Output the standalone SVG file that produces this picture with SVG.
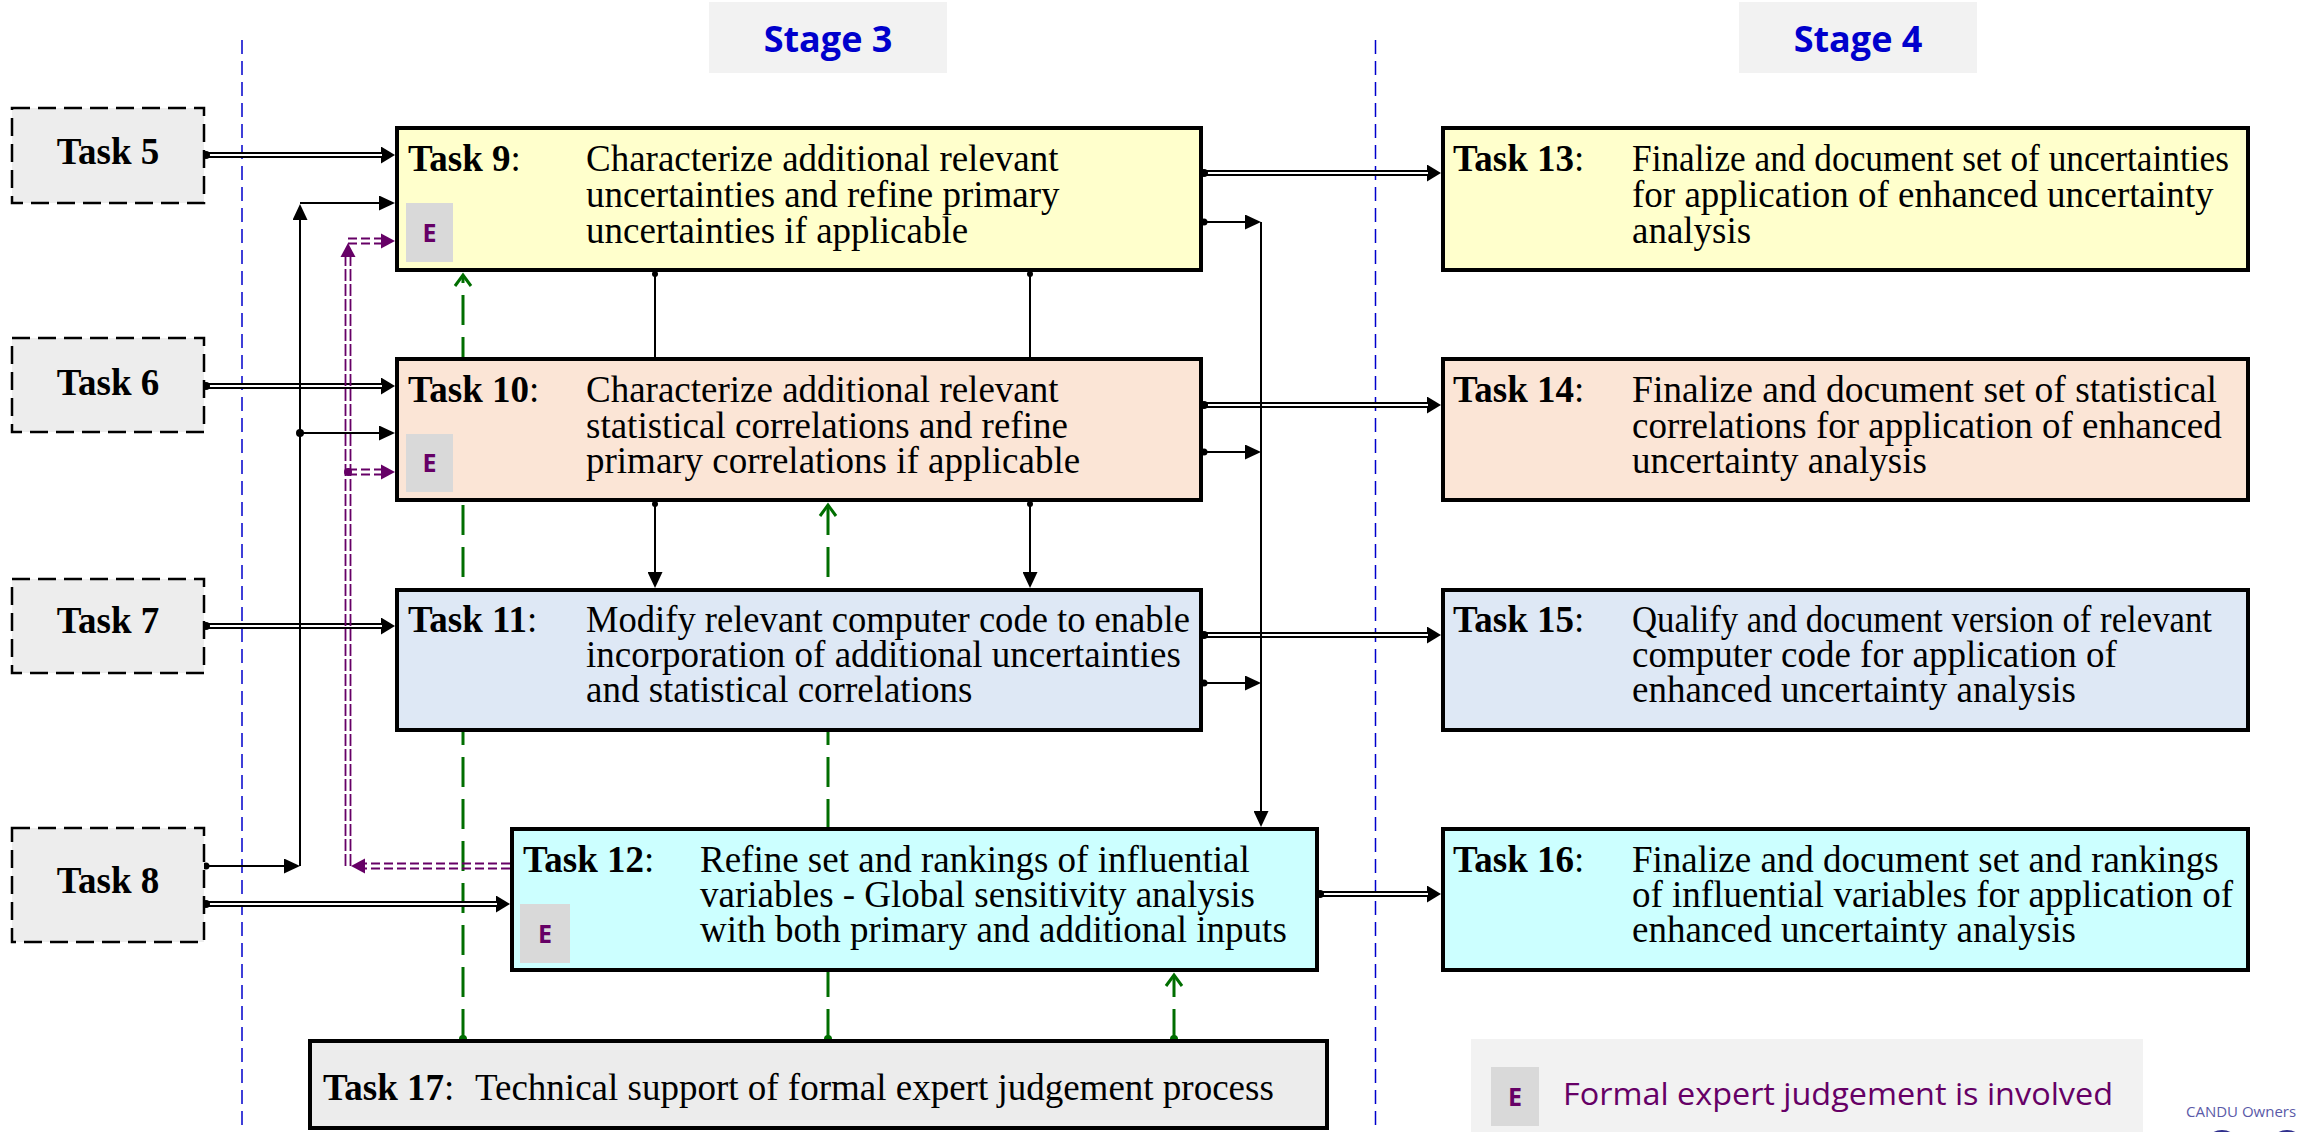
<svg xmlns="http://www.w3.org/2000/svg" width="2305" height="1132" viewBox="0 0 2305 1132">
<style>
.t{font-family:"Liberation Serif","Times New Roman",serif;font-size:37px;fill:#000}
.b{font-weight:bold}
.stage{font-family:"Open Sans","Liberation Sans",sans-serif;font-weight:bold;font-size:36px;fill:#0000cc;text-anchor:middle}
.e{font-family:"Open Sans","Liberation Sans",sans-serif;font-weight:bold;font-size:25px;fill:#660066;text-anchor:middle}
.badge{fill:#d9d9d9}
.src{fill:#ededed;stroke:#000;stroke-width:2.5;stroke-dasharray:18 8}
.box{stroke:#000;stroke-width:4}
.y{fill:#ffffcc}.p{fill:#fbe5d6}.bl{fill:#dee8f5}.c{fill:#ccffff}.g{fill:#ececec}
.sep{stroke:#0000cc;stroke-width:1.5;stroke-dasharray:14 7;fill:none}
.dblo{stroke:#000;stroke-width:6;fill:none;marker-end:url(#ahd)}
.dbli{stroke:#fff;stroke-width:2;fill:none}
.sl{stroke:#000;stroke-width:2;fill:none}
.sa{stroke:#000;stroke-width:2;fill:none;marker-end:url(#ahs)}
.pl{stroke:#660066;stroke-width:1.8;fill:none;stroke-dasharray:9 4}
.pv{stroke:#660066;stroke-width:1.8;fill:none;stroke-dasharray:12 3}
.gl{stroke:#006e00;stroke-width:3;fill:none;stroke-dasharray:30 12}
.gc{stroke:#006e00;stroke-width:3;fill:none}
</style>
<defs>
<marker id="ahd" markerUnits="userSpaceOnUse" markerWidth="14" markerHeight="17" refX="0" refY="8.5" orient="auto"><path d="M0,0 L14,8.5 L0,17 z" fill="#000"/></marker>
<marker id="ahs" markerUnits="userSpaceOnUse" markerWidth="16" markerHeight="15" refX="0" refY="7.5" orient="auto"><path d="M0,0 L16,7.5 L0,15 z" fill="#000"/></marker>
</defs>
<rect width="2305" height="1132" fill="#fff"/>
<g id="stage3"><rect x="709" y="2" width="238" height="71" fill="#f2f2f2"/><text class="stage" x="828" y="52">Stage 3</text></g>
<g id="stage4"><rect x="1739" y="2" width="238" height="71" fill="#f2f2f2"/><text class="stage" x="1858" y="52">Stage 4</text></g>
<g id="separators">
<line class="sep" x1="242" y1="40" x2="242" y2="1132"/>
<line class="sep" x1="1375.5" y1="40" x2="1375.5" y2="1132"/>
</g>
<g id="connectors">
<path class="gl" d="M463,1039 V275"/><path class="gc" d="M455,286 L463,275 L471,286"/><circle cx="463" cy="1039" r="4" fill="#006e00"/>
<path class="gl" d="M828,1039 V505"/><path class="gc" d="M820,516 L828,505 L836,516"/><circle cx="828" cy="1039" r="4" fill="#006e00"/>
<path class="gl" d="M1174,1039 V975"/><path class="gc" d="M1166,986 L1174,975 L1182,986"/><circle cx="1174" cy="1039" r="4" fill="#006e00"/>
<path class="dblo" d="M205,155 H381"/><path class="dbli" d="M205,155 H382"/><circle cx="206" cy="155" r="4"/>
<path class="dblo" d="M205,386 H381"/><path class="dbli" d="M205,386 H382"/><circle cx="206" cy="386" r="4"/>
<path class="dblo" d="M205,626 H381"/><path class="dbli" d="M205,626 H382"/><circle cx="206" cy="626" r="4"/>
<path class="dblo" d="M205,904 H496"/><path class="dbli" d="M205,904 H497"/><circle cx="206" cy="904" r="4"/>
<path class="dblo" d="M1203,173 H1427"/><path class="dbli" d="M1203,173 H1428"/><circle cx="1204" cy="173" r="4"/>
<path class="dblo" d="M1203,405 H1427"/><path class="dbli" d="M1203,405 H1428"/><circle cx="1204" cy="405" r="4"/>
<path class="dblo" d="M1203,635 H1427"/><path class="dbli" d="M1203,635 H1428"/><circle cx="1204" cy="635" r="4"/>
<path class="dblo" d="M1319,894 H1427"/><path class="dbli" d="M1319,894 H1428"/><circle cx="1320" cy="894" r="4"/>
<path class="sa" d="M205,866 H284"/><circle cx="206" cy="866" r="3.5"/>
<path class="sa" d="M300,866 V220"/>
<path class="sa" d="M300,203 H379"/>
<path class="sa" d="M300,433 H379"/><circle cx="300" cy="433" r="4"/>
<path class="sa" d="M1203,222 H1245"/><circle cx="1204" cy="222" r="3.5"/>
<path class="sa" d="M1203,452 H1245"/><circle cx="1204" cy="452" r="3.5"/>
<path class="sa" d="M1203,683 H1245"/><circle cx="1204" cy="683" r="3.5"/>
<path class="sa" d="M1261,222 V811"/>
<path class="sl" d="M655,272 V357"/><circle cx="655" cy="274" r="3"/>
<path class="sl" d="M1030,272 V357"/><circle cx="1030" cy="274" r="3"/>
<path class="sa" d="M655,502 V572"/><circle cx="655" cy="504" r="3"/>
<path class="sa" d="M1030,502 V572"/><circle cx="1030" cy="504" r="3"/>
<path class="pl" d="M510,863.5 H365 M510,868.5 H365"/>
<polygon points="351,866 365,858.5 365,873.5" fill="#660066"/>
<path class="pv" d="M345.5,866 V257 M350.5,866 V257"/>
<polygon points="348,243 340.5,257 355.5,257" fill="#660066"/>
<path class="pl" d="M348,238.5 H381 M348,243.5 H381"/>
<polygon points="395,241 381,233.5 381,248.5" fill="#660066"/>
<path class="pl" d="M348,469.5 H381 M348,474.5 H381"/>
<polygon points="395,472 381,464.5 381,479.5" fill="#660066"/>
<circle cx="348" cy="472" r="4" fill="#660066"/>
</g>
<g id="task5"><rect class="src" x="12" y="108" width="192" height="95"/><text class="t b" x="108" y="164" text-anchor="middle">Task 5</text></g>
<g id="task6"><rect class="src" x="12" y="338" width="192" height="94"/><text class="t b" x="108" y="395" text-anchor="middle">Task 6</text></g>
<g id="task7"><rect class="src" x="12" y="579" width="192" height="94"/><text class="t b" x="108" y="633" text-anchor="middle">Task 7</text></g>
<g id="task8"><rect class="src" x="12" y="828" width="192" height="114"/><text class="t b" x="108" y="893" text-anchor="middle">Task 8</text></g>
<g id="task9"><rect class="box y" x="397" y="128" width="804" height="142"/>
<text class="t" x="408" y="171"><tspan class="b">Task 9</tspan>:</text>
<text class="t" x="586" y="171">Characterize additional relevant</text>
<text class="t" x="586" y="207">uncertainties and refine primary</text>
<text class="t" x="586" y="243">uncertainties if applicable</text>
<rect class="badge" x="406" y="203" width="47" height="59"/><text class="e" x="429.5" y="242">E</text></g>
<g id="task10"><rect class="box p" x="397" y="359" width="804" height="141"/>
<text class="t" x="408" y="402"><tspan class="b">Task 10</tspan>:</text>
<text class="t" x="586" y="402">Characterize additional relevant</text>
<text class="t" x="586" y="438">statistical correlations and refine</text>
<text class="t" x="586" y="473">primary correlations if applicable</text>
<rect class="badge" x="406" y="434" width="47" height="58"/><text class="e" x="429.5" y="472">E</text></g>
<g id="task11"><rect class="box bl" x="397" y="590" width="804" height="140"/>
<text class="t" x="408" y="632"><tspan class="b">Task 11</tspan>:</text>
<text class="t" x="586" y="632" textLength="604" lengthAdjust="spacingAndGlyphs">Modify relevant computer code to enable</text>
<text class="t" x="586" y="667">incorporation of additional uncertainties</text>
<text class="t" x="586" y="702">and statistical correlations</text></g>
<g id="task12"><rect class="box c" x="512" y="829" width="805" height="141"/>
<text class="t" x="523" y="872"><tspan class="b">Task 12</tspan>:</text>
<text class="t" x="700" y="872">Refine set and rankings of influential</text>
<text class="t" x="700" y="907">variables - Global sensitivity analysis</text>
<text class="t" x="700" y="942">with both primary and additional inputs</text>
<rect class="badge" x="520" y="904" width="50" height="59"/><text class="e" x="545" y="943">E</text></g>
<g id="task13"><rect class="box y" x="1443" y="128" width="805" height="142"/>
<text class="t" x="1453" y="171"><tspan class="b">Task 13</tspan>:</text>
<text class="t" x="1632" y="171" textLength="597" lengthAdjust="spacingAndGlyphs">Finalize and document set of uncertainties</text>
<text class="t" x="1632" y="207">for application of enhanced uncertainty</text>
<text class="t" x="1632" y="243">analysis</text></g>
<g id="task14"><rect class="box p" x="1443" y="359" width="805" height="141"/>
<text class="t" x="1453" y="402"><tspan class="b">Task 14</tspan>:</text>
<text class="t" x="1632" y="402" textLength="585" lengthAdjust="spacingAndGlyphs">Finalize and document set of statistical</text>
<text class="t" x="1632" y="438">correlations for application of enhanced</text>
<text class="t" x="1632" y="473">uncertainty analysis</text></g>
<g id="task15"><rect class="box bl" x="1443" y="590" width="805" height="140"/>
<text class="t" x="1453" y="632"><tspan class="b">Task 15</tspan>:</text>
<text class="t" x="1632" y="632" textLength="580" lengthAdjust="spacingAndGlyphs">Qualify and document version of relevant</text>
<text class="t" x="1632" y="667">computer code for application of</text>
<text class="t" x="1632" y="702">enhanced uncertainty analysis</text></g>
<g id="task16"><rect class="box c" x="1443" y="829" width="805" height="141"/>
<text class="t" x="1453" y="872"><tspan class="b">Task 16</tspan>:</text>
<text class="t" x="1632" y="872">Finalize and document set and rankings</text>
<text class="t" x="1632" y="907">of influential variables for application of</text>
<text class="t" x="1632" y="942">enhanced uncertainty analysis</text></g>
<g id="task17"><rect class="box g" x="310" y="1041" width="1017" height="87" stroke-width="5"/>
<text class="t" x="323" y="1100"><tspan class="b">Task 17</tspan>:</text>
<text class="t" x="475" y="1100">Technical support of formal expert judgement process</text></g>
<g id="legend"><rect x="1471" y="1039" width="672" height="93" fill="#f2f2f2"/>
<rect class="badge" x="1491" y="1067" width="48" height="59"/><text class="e" x="1515" y="1106">E</text>
<text x="1563" y="1105" font-family="Open Sans, Liberation Sans, sans-serif" font-size="31" fill="#660066" textLength="550" lengthAdjust="spacingAndGlyphs">Formal expert judgement is involved</text></g>
<g id="logo">
<text x="2186" y="1117" font-family="Open Sans, Liberation Sans, sans-serif" font-size="15" fill="#5a5aa8">CANDU Owners</text>
<ellipse cx="2222" cy="1137" rx="12" ry="7" fill="#2e2e8c"/>
<ellipse cx="2287" cy="1137" rx="12" ry="7" fill="#2e2e8c"/>
</g>
</svg>
